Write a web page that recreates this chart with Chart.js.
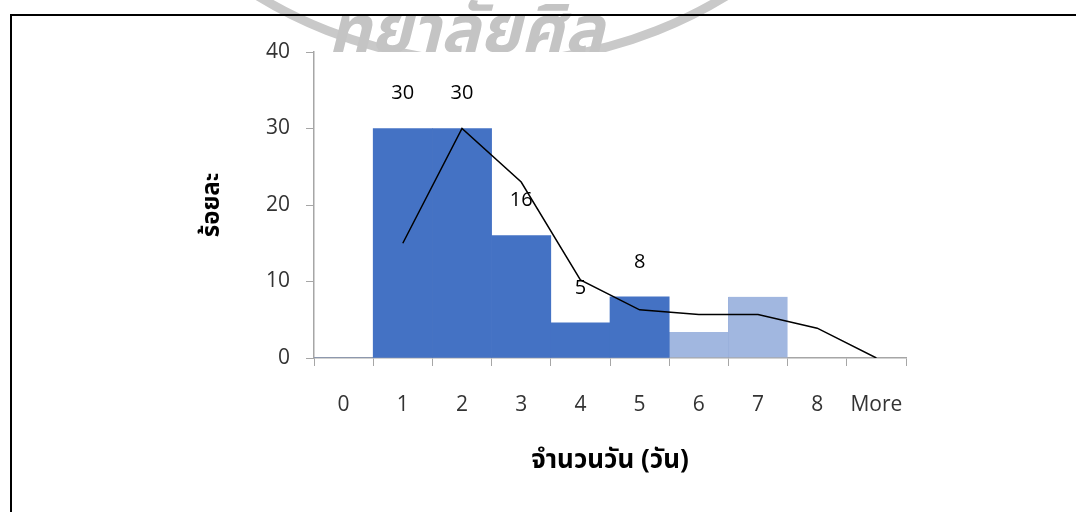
<!DOCTYPE html>
<html>
<head>
<meta charset="utf-8">
<script src="https://cdn.jsdelivr.net/npm/chart.js@4"></script>
<style>
  html, body { margin: 0; padding: 0; background: #fff; }
  #wrap { width: 1076px; height: 512px; position: relative; }
</style>
</head>
<body>
<div id="wrap"><canvas id="chart" width="1076" height="512"></canvas></div>
<script>
// Histogram of days (จำนวนวัน) with percentage line
var categories = ['0', '1', '2', '3', '4', '5', '6', '7', '8', 'More'];
var mainPct = [0, 30, 30, 16, 4.6, 8, null, null, null, null];
var otherPct = [null, null, null, null, null, null, 3.4, 8, null, null];
var linePct = [null, 15, 30, 23, 10.2, 6.3, 5.7, 5.7, 3.9, 0];
var barLabels = ['', '30', '30', '16', '5', '8', '', '', '', ''];
var yTicks = [0, 10, 20, 30, 40];

var THAI = '"Noto Sans Thai", "Noto Sans", Loma, Garuda, sans-serif';
var NUM = '"Open Sans", "Noto Sans", sans-serif';

// grey seal watermark + page frame
var backdrop = {
  id: 'backdrop',
  beforeDraw: function (chart) {
    var ctx = chart.ctx;
    ctx.save();
    ctx.beginPath();
    ctx.rect(0, 0, 1076, 52);
    ctx.clip();
    ctx.strokeStyle = '#c9c9c9';
    ctx.lineWidth = 9;
    ctx.beginPath();
    ctx.arc(492, -386, 448, 0, Math.PI);
    ctx.stroke();
    ctx.fillStyle = '#c4c4c4';
    ctx.font = 'italic bold 66px ' + THAI;
    ctx.textBaseline = 'alphabetic';
    ctx.textAlign = 'left';
    ctx.fillText('ทยาลัยศิล', 328, 52);
    ctx.restore();
  },
  afterDraw: function (chart) {
    var ctx = chart.ctx;
    ctx.save();
    ctx.strokeStyle = '#000';
    ctx.lineWidth = 2;
    ctx.beginPath();
    ctx.moveTo(11, 512);
    ctx.lineTo(11, 15);
    ctx.lineTo(1076, 15);
    ctx.stroke();
    ctx.restore();
  }
};

// value labels above the first bar series
var valueLabels = {
  id: 'valueLabels',
  afterDatasetsDraw: function (chart) {
    var ctx = chart.ctx;
    var meta = chart.getDatasetMeta(0);
    ctx.save();
    ctx.fillStyle = '#000';
    ctx.font = '20px ' + NUM;
    ctx.textAlign = 'center';
    ctx.textBaseline = 'middle';
    meta.data.forEach(function (bar, i) {
      if (!barLabels[i]) return;
      ctx.fillText(barLabels[i], bar.x, bar.y - 35);
    });
    ctx.restore();
  }
};

new Chart(document.getElementById('chart'), {
  type: 'bar',
  data: {
    labels: categories,
    datasets: [
      {
        data: mainPct,
        backgroundColor: '#4472c4',
        barPercentage: 1,
        categoryPercentage: 1,
        order: 2
      },
      {
        data: otherPct,
        backgroundColor: '#a1b7e0',
        borderColor: '#8fa8d8',
        borderWidth: { left: 1 },
        borderSkipped: false,
        barPercentage: 1,
        categoryPercentage: 1,
        order: 2
      },
      {
        type: 'line',
        data: linePct,
        borderColor: '#000',
        borderWidth: 1.5,
        pointRadius: 0,
        tension: 0,
        fill: false,
        order: 1
      }
    ]
  },
  options: {
    responsive: false,
    animation: false,
    devicePixelRatio: 1,
    layout: { padding: { top: 52, right: 170, left: 0, bottom: 0 } },
    plugins: {
      legend: { display: false },
      tooltip: { enabled: false }
    },
    scales: {
      x: {
        stacked: true,
        offset: true,
        grid: { drawOnChartArea: false, tickLength: 8, color: '#a6a6a6', offset: true },
        border: { color: '#a6a6a6', width: 1.5 },
        ticks: { color: '#333', font: { family: NUM, size: 21 }, padding: 26, maxRotation: 0 },
        title: {
          display: true,
          text: 'จำนวนวัน (วัน)',
          color: '#000',
          font: { family: THAI, size: 26, weight: 'bold' },
          padding: { top: 0, bottom: 34 }
        },
        afterFit: function (s) { s.height = 154; }
      },
      y: {
        min: 0,
        max: 40,
        afterBuildTicks: function (s) { s.ticks = yTicks.map(function (v) { return { value: v }; }); },
        grid: { drawOnChartArea: false, tickLength: 8, color: '#a6a6a6' },
        border: { color: '#a6a6a6', width: 1.5 },
        ticks: { color: '#333', font: { family: NUM, size: 21 }, padding: 16 },
        title: {
          display: true,
          text: 'ร้อยละ',
          color: '#000',
          font: { family: THAI, size: 24, weight: 'bold' },
          padding: { top: 200, bottom: 0 }
        },
        afterFit: function (s) { s.width = 314; }
      }
    }
  },
  plugins: [backdrop, valueLabels]
});
</script>
</body>
</html>
